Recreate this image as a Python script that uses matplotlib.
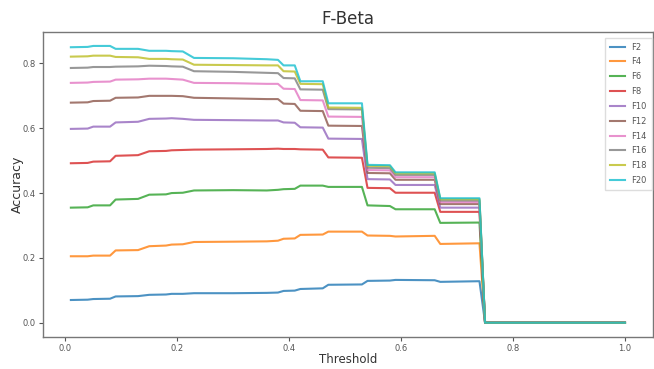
import numpy as np
import matplotlib
matplotlib.use("Agg")
from matplotlib import pyplot as plt

# threshold breakpoints (curves are piecewise linear between them)
thresholds = [0.01, 0.04, 0.05, 0.08, 0.09, 0.13, 0.15, 0.18, 0.19, 0.21,
              0.23, 0.30, 0.36, 0.38, 0.39, 0.41, 0.42, 0.46, 0.47, 0.53,
              0.54, 0.58, 0.59, 0.66, 0.67, 0.74, 0.75, 1.00]

labels = ["F2", "F4", "F6", "F8", "F10", "F12", "F14", "F16", "F18", "F20"]

f2 = [0.070, 0.071, 0.073, 0.074, 0.081, 0.082, 0.086, 0.087, 0.089, 0.089,
      0.091, 0.091, 0.092, 0.093, 0.098, 0.099, 0.104, 0.106, 0.117, 0.118,
      0.129, 0.130, 0.132, 0.131, 0.126, 0.128, 0.0, 0.0]
f4 = [0.205, 0.205, 0.207, 0.207, 0.223, 0.224, 0.236, 0.238, 0.241, 0.242,
      0.249, 0.250, 0.251, 0.253, 0.259, 0.260, 0.271, 0.272, 0.281, 0.281,
      0.269, 0.268, 0.266, 0.268, 0.243, 0.245, 0.0, 0.0]
f6 = [0.355, 0.356, 0.362, 0.362, 0.380, 0.382, 0.395, 0.396, 0.400, 0.401,
      0.408, 0.409, 0.408, 0.410, 0.412, 0.413, 0.423, 0.423, 0.419, 0.419,
      0.362, 0.360, 0.350, 0.350, 0.308, 0.309, 0.0, 0.0]
f8 = [0.492, 0.493, 0.497, 0.498, 0.515, 0.517, 0.529, 0.530, 0.532, 0.533,
      0.534, 0.535, 0.536, 0.537, 0.536, 0.536, 0.535, 0.534, 0.510, 0.509,
      0.416, 0.415, 0.401, 0.401, 0.342, 0.342, 0.0, 0.0]
f10 = [0.598, 0.599, 0.605, 0.605, 0.618, 0.620, 0.629, 0.630, 0.631, 0.629,
       0.626, 0.625, 0.624, 0.624, 0.618, 0.617, 0.603, 0.602, 0.568, 0.567,
       0.443, 0.442, 0.425, 0.425, 0.355, 0.355, 0.0, 0.0]
f12 = [0.679, 0.680, 0.684, 0.685, 0.694, 0.695, 0.700, 0.700, 0.700, 0.699,
       0.694, 0.692, 0.690, 0.690, 0.676, 0.675, 0.654, 0.653, 0.608, 0.607,
       0.462, 0.461, 0.441, 0.441, 0.366, 0.366, 0.0, 0.0]
f14 = [0.740, 0.741, 0.743, 0.744, 0.750, 0.751, 0.753, 0.753, 0.752, 0.750,
       0.740, 0.739, 0.737, 0.737, 0.722, 0.721, 0.687, 0.686, 0.636, 0.635,
       0.471, 0.470, 0.449, 0.449, 0.372, 0.372, 0.0, 0.0]
f16 = [0.786, 0.787, 0.789, 0.789, 0.790, 0.791, 0.793, 0.792, 0.791, 0.790,
       0.776, 0.774, 0.771, 0.770, 0.755, 0.754, 0.720, 0.719, 0.659, 0.658,
       0.478, 0.477, 0.456, 0.456, 0.377, 0.377, 0.0, 0.0]
f18 = [0.821, 0.822, 0.824, 0.824, 0.820, 0.819, 0.814, 0.814, 0.813, 0.812,
       0.796, 0.795, 0.794, 0.794, 0.776, 0.775, 0.737, 0.736, 0.664, 0.663,
       0.484, 0.483, 0.461, 0.461, 0.381, 0.381, 0.0, 0.0]
f20 = [0.850, 0.851, 0.854, 0.854, 0.845, 0.845, 0.839, 0.839, 0.838, 0.837,
       0.817, 0.816, 0.813, 0.811, 0.794, 0.794, 0.745, 0.745, 0.677, 0.677,
       0.487, 0.486, 0.464, 0.464, 0.384, 0.384, 0.0, 0.0]

series = [f2, f4, f6, f8, f10, f12, f14, f16, f18, f20]

fig = plt.figure(figsize=(6.54, 3.69), dpi=100)
ax = fig.add_axes([0.066, 0.088, 0.932, 0.825])

for vals, lab in zip(series, labels):
    ax.plot(thresholds, vals, label=lab, linewidth=1.5, alpha=0.8)

ax.set_title("F-Beta", fontsize=12, color="#333333", pad=6)
ax.set_xlabel("Threshold", fontsize=8.5, color="#333333", labelpad=0)
ax.set_ylabel("Accuracy", fontsize=9, color="#333333", labelpad=-1)
ax.tick_params(labelsize=6, colors="#555555", length=3, width=0.8, pad=2.5)
for s in ax.spines.values():
    s.set_color("#777777")
    s.set_linewidth(1.0)

leg = ax.legend(loc="upper right", bbox_to_anchor=(1.0, 0.985),
                borderaxespad=0.1, fontsize=6, handlelength=1.8,
                labelspacing=0.7, borderpad=0.6, framealpha=1,
                edgecolor="#dddddd", fancybox=False)
for t in leg.get_texts():
    t.set_color("#555555")

fig.savefig("out.png", dpi=100)
